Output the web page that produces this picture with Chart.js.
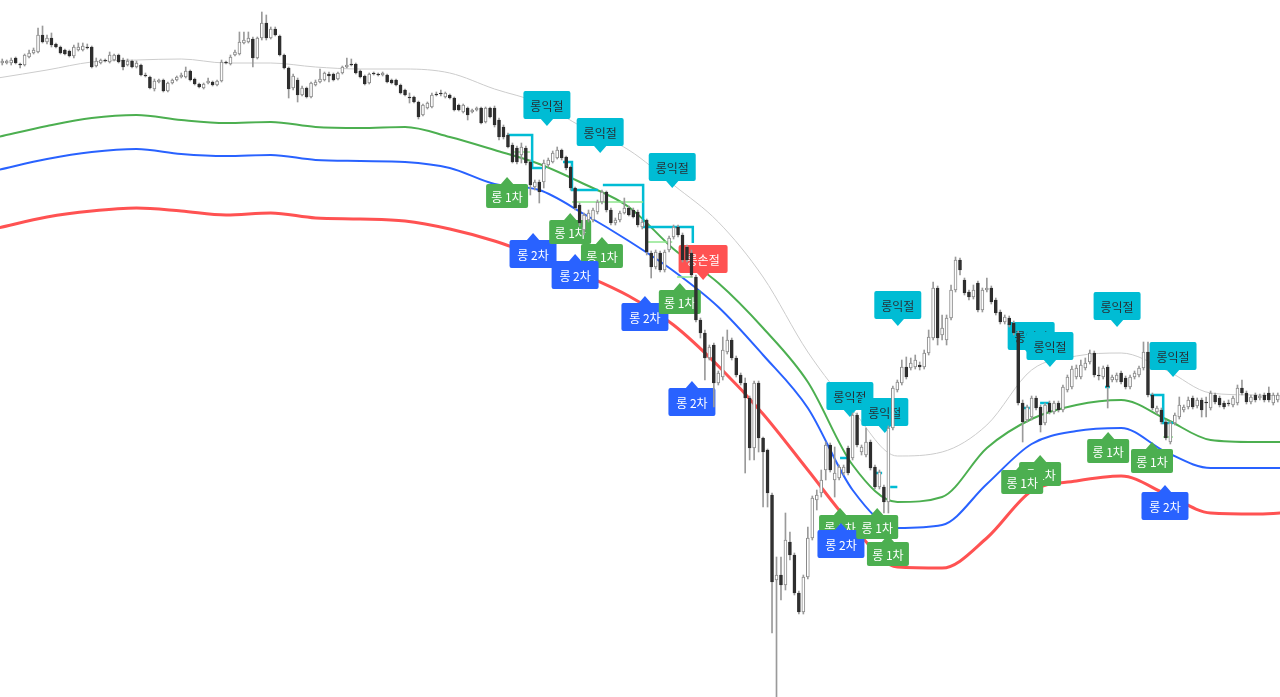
<!DOCTYPE html>
<html>
<head>
<meta charset="utf-8">
<script src="https://cdn.jsdelivr.net/npm/chart.js@4.4.1/dist/chart.umd.min.js"></script>
<style>
  html, body { margin: 0; padding: 0; background: #fff; }
  #wrap { width: 1280px; height: 697px; }
</style>
</head>
<body>
<div id="wrap"><canvas id="chart" width="1280" height="697"></canvas></div>
<script>
// candles: [open, high, low, close]
const ohlc = [
  [937,941,935,939],[937,940,936,939],[937,942,935,940],[942,943,936,937],[936,937,932,935],
  [935,946,934,945],[943,950,942,947],[947,952,946,950],[948,972,947,965],[965,974,957,958],
  [958,965,956,962],[962,967,953,955],[956,957,952,953],[953,954,946,947],[950,951,945,946],
  [949,950,943,944],[944,955,942,953],[950,957,949,953],[950,957,949,954],[953,956,951,952],
  [953,954,932,933],[934,942,933,939],[937,941,936,940],[940,941,938,939],[938,948,937,945],
  [940,946,939,945],[945,946,937,938],[940,942,930,933],[935,941,934,939],[939,940,932,933],
  [933,939,932,937],[935,936,924,925],[925,927,923,924],[923,924,911,912],[911,921,909,919],
  [918,921,917,920],[920,921,908,909],[909,918,908,917],[917,921,916,920],[920,924,919,923],
  [923,927,922,925],[923,933,922,929],[929,930,919,920],[921,922,915,916],[916,917,912,913],
  [912,917,911,916],[917,922,916,919],[918,919,914,915],[915,920,914,919],[919,940,918,938],
  [938,939,936,937],[936,945,935,943],[945,950,944,948],[946,968,945,958],[957,968,956,960],
  [958,968,957,962],[961,963,933,942],[942,963,941,962],[962,988,960,977],[977,985,960,962],
  [962,973,961,971],[971,973,964,965],[964,965,944,945],[945,946,931,932],[932,933,902,911],
  [912,926,910,924],[920,922,898,905],[905,914,904,912],[912,913,902,903],[903,918,902,917],
  [915,920,914,918],[918,931,917,921],[920,928,919,927],[926,928,918,924],[926,927,919,920],
  [921,928,920,927],[927,934,926,933],[933,942,932,935],[936,941,934,935],[936,937,926,927],
  [929,930,922,923],[924,925,915,916],[917,927,916,926],[927,928,925,926],[926,927,924,925],
  [925,928,924,927],[925,926,917,918],[920,921,916,917],[920,921,914,915],[915,916,906,907],
  [910,911,904,905],[903,907,897,902],[903,904,897,898],[898,899,881,883],[885,896,884,895],
  [892,898,891,897],[893,907,892,905],[906,908,904,905],[907,910,904,906],[903,908,902,907],
  [905,906,901,902],[902,903,889,890],[895,896,889,890],[888,896,887,895],[892,893,880,885],
  [888,891,887,890],[890,893,889,892],[892,893,876,877],[878,893,877,892],[892,893,882,883],
  [892,894,873,875],[880,882,860,863],[873,875,861,863],[865,867,852,853],[855,857,837,838],
  [852,854,836,838],[845,857,837,853],[852,854,835,837],[838,840,805,815],[813,820,810,818],
  [818,820,797,808],[818,840,812,837],[835,842,833,840],[838,849,837,847],[842,853,841,850],
  [850,851,840,842],[843,844,830,832],[833,834,810,812],[812,813,790,792],[795,797,774,777],
  [770,787,765,785],[780,790,778,787],[780,792,778,790],[788,800,786,798],[798,810,796,808],
  [808,809,788,790],[790,792,775,777],[777,782,775,780],[780,789,778,787],[787,802,786,792],
  [792,794,784,785],[790,792,782,783],[788,790,773,775],[773,780,771,778],[780,781,745,748],
  [747,749,722,733],[733,750,731,748],[747,749,728,730],[730,750,728,748],[750,764,748,762],
  [763,775,761,773],[773,775,763,765],[765,767,738,740],[753,755,738,740],[747,750,723,725],
  [723,725,678,680],[680,682,662,667],[667,670,620,642],[642,655,640,653],[655,657,593,617],
  [617,629,615,627],[623,663,620,650],[648,670,646,660],[660,662,640,642],[642,644,623,625],
  [625,627,615,617],[617,622,527,602],[602,604,540,552],[552,619,540,617],[617,619,548,562],
  [562,563,493,548],[550,551,493,507],[505,507,367,418],[420,443,300,425],[425,443,400,415],
  [415,487,410,460],[458,468,440,445],[445,447,405,407],[407,409,386,388],[388,425,386,423],
  [423,473,421,462],[462,504,460,502],[500,510,490,505],[507,530,503,520],[530,558,520,555],
  [555,557,528,530],[520,553,503,527],[522,535,520,533],[527,535,525,533],[552,554,525,527],
  [542,587,540,585],[585,587,553,555],[548,555,545,553],[545,572,543,558],[558,560,530,532],
  [533,535,511,513],[513,530,511,528],[513,515,487,498],[498,574,487,572],[572,614,570,612],
  [610,620,608,618],[617,640,615,633],[633,643,621,623],[632,642,630,637],[633,645,631,640],
  [635,638,630,633],[633,650,631,647],[647,670,645,663],[662,718,660,712],[712,714,655,662],
  [665,685,660,672],[660,685,655,682],[682,715,680,710],[710,743,708,740],[740,742,725,730],
  [720,722,705,707],[708,710,700,703],[703,715,701,710],[717,719,688,690],[690,712,688,710],
  [710,722,708,712],[712,714,696,698],[700,702,685,687],[688,690,676,678],[678,685,676,683],
  [682,684,673,675],[677,679,665,667],[667,669,595,597],[597,600,558,578],[580,595,578,593],
  [583,604,580,602],[602,604,590,592],[593,595,568,575],[577,597,575,595],[597,599,586,588],
  [588,599,586,597],[597,599,588,590],[590,615,588,613],[610,625,608,623],[613,634,611,631],
  [623,635,621,632],[623,640,621,635],[632,642,630,637],[638,650,636,647],[647,649,623,625],
  [625,633,620,624],[623,634,621,632],[633,635,592,613],[620,625,618,623],[620,627,618,625],
  [627,629,616,618],[622,624,611,613],[613,625,611,623],[623,629,621,627],[625,634,623,632],
  [632,658,630,648],[648,658,603,605],[605,607,590,592],[588,594,586,592],[590,592,576,578],
  [578,580,560,562],[558,579,556,577],[577,587,575,585],[583,603,581,595],[590,595,588,593],
  [593,603,591,600],[602,604,591,593],[594,602,592,600],[600,602,583,590],[598,603,583,597],
  [592,609,590,607],[605,607,596,598],[602,604,593,595],[597,599,591,593],[597,600,594,596],
  [595,604,593,602],[597,615,595,612],[612,620,605,607],[607,609,596,598],[598,605,596,603],
  [605,607,598,600],[602,606,600,604],[605,607,598,600],[607,613,598,600],[597,607,595,605],
  [600,607,598,605]
];

// band lines, sampled at these candle positions
const bandIdx = [-1,10,20,30,40,50,60,70,80,90,100,110,120,130,140,150,160,170,180,190,200,210,220,230,240,250,260,270,280,286];
const basis = [922,930,938,940,941,937,937,933,931,931,927,911,897,872,850,815,778,723,648,590,544,548,575,630,644,647,630,607,605,604];
const band1 = [863,874,882,885,880,877,878,873,872,873,863,850,836,816,793,751,717,672,618,535,498,503,552,581,595,600,581,560,558,558];
const band2 = [830,841,848,851,846,844,845,840,839,838,832,816,810,786,759,729,693,645,592,510,472,475,516,556,569,572,548,532,532,532];
const band3 = [772,783,789,792,789,785,787,782,781,779,771,759,743,725,704,675,634,586,530,474,433,432,462,509,519,524,506,487,486,487];

// take-profit level steps and entry lines: [candle position, price]
const tpSteps = [
  [[112.8,865],[118.4,832],[121.5,832]],
  [[125.3,838],[127.3,810],[133.1,810]],
  [[134.2,815],[143.2,773],[154.3,757]],
  [[187.2,542],[189.0,542]],
  [[195.0,527],[196.6,527]],
  [[198.4,513],[200.0,513]],
  [[227.8,592],[229.6,592]],
  [[231.9,597],[234.1,597]],
  [[246.4,613],[247.5,613]],
  [[256.5,605],[259.4,577],[261.6,577]]
];
const entrySteps = [
  [[114.1,848],[117.9,848]],
  [[127.3,798],[143.2,798]],
  [[144.1,758],[149.7,758]],
  [[150.8,723],[154.3,723]],
  [[259.4,563],[261.6,563]]
];

// signal tags (drawn in this order)
const tagIdx   = [121.7,133.6,149.7,112.8,118.6,126.9,134.0,128.0,143.6,156.6,151.4,154.1,200.1,189.4,197.2,187.2,187.4,195.5,197.9,229.9,234.1,231.9,227.9,249.1,247.1,256.9,261.6,259.8];
const tagPrice = [874,847,812,823,767,787,763,746,704,720,717,619,674,583,567,492,477,492,465,643,633,545,537,673,568,558,623,515];
const tagType  = ['tp','tp','tp','l1','l2','l1','l1','l2','l2','sl','l1','l2','tp','tp','tp','l1','l2','l1','l1','tp','tp','l1','l1','tp','l1','l1','tp','l2'];
const tagNames = { l1: '롱 1차', l2: '롱 2차', tp: '롱익절', sl: '롱손절' };

const tagStyle = {
  l1: { bg: '#4caf50', fg: '#ffffff', up: true,  w: 42, h: 24 },
  l2: { bg: '#2962ff', fg: '#ffffff', up: true,  w: 47, h: 28 },
  tp: { bg: '#00bcd4', fg: '#263238', up: false, w: 47, h: 28 },
  sl: { bg: '#ff5252', fg: '#ffffff', up: false, w: 49, h: 28 }
};

function steps(segs) {
  const out = [];
  segs.forEach(seg => {
    seg.forEach(p => out.push({ x: p[0], y: p[1] }));
    out.push({ x: seg[seg.length - 1][0] + 0.01, y: null });
  });
  return out;
}

function band(values, color, width) {
  return {
    type: 'line',
    data: bandIdx.map((x, i) => ({ x: x, y: values[i] })),
    borderColor: color,
    borderWidth: width,
    pointRadius: 0,
    cubicInterpolationMode: 'monotone',
    fill: false,
    order: 10
  };
}

const isUp = ohlc.map(c => c[3] >= c[0]);

const tagPlugin = {
  id: 'tags',
  beforeDatasetDraw(chart, args) {
    if (args.index !== 6) return;
    const ctx = chart.ctx;
    const x = chart.scales.x, y = chart.scales.y;
    ctx.save();
    ctx.font = '12px "Noto Sans CJK KR", "Noto Sans", sans-serif';
    ctx.textAlign = 'center';
    ctx.textBaseline = 'middle';
    tagIdx.forEach((idx, k) => {
      const s = tagStyle[tagType[k]];
      const px = x.getPixelForValue(idx);
      const py = y.getPixelForValue(tagPrice[k]);
      const ah = 7, aw = 7;
      const top = s.up ? py + ah : py - ah - s.h;
      ctx.fillStyle = s.bg;
      ctx.beginPath();
      ctx.roundRect(px - s.w / 2, top, s.w, s.h, 2);
      ctx.fill();
      ctx.beginPath();
      if (s.up) {
        ctx.moveTo(px, py);
        ctx.lineTo(px - aw, py + ah + 1);
        ctx.lineTo(px + aw, py + ah + 1);
      } else {
        ctx.moveTo(px, py);
        ctx.lineTo(px - aw, py - ah - 1);
        ctx.lineTo(px + aw, py - ah - 1);
      }
      ctx.closePath();
      ctx.fill();
      ctx.fillStyle = s.fg;
      ctx.fillText(tagNames[tagType[k]], px, top + s.h / 2 + 1);
    });
    ctx.restore();
  }
};

const ctx = document.getElementById('chart');

new Chart(ctx, {
  type: 'bar',
  data: {
    datasets: [
      band(basis, '#cccccc', 1),
      band(band1, '#4caf50', 2),
      band(band2, '#2962ff', 2),
      band(band3, '#ff5252', 3),
      {
        type: 'line',
        data: steps(tpSteps),
        borderColor: '#00bcd4',
        borderWidth: 2.5,
        stepped: true,
        pointRadius: 0,
        fill: false,
        order: 9
      },
      {
        type: 'line',
        data: steps(entrySteps),
        borderColor: '#8ee68e',
        borderWidth: 1.5,
        pointRadius: 0,
        fill: false,
        order: 8
      },
      {
        // wicks
        data: ohlc.map((c, i) => ({ x: i, y: [c[2], c[1]] })),
        backgroundColor: '#9a9a9a',
        barThickness: 1,
        grouped: false,
        order: 1
      },
      {
        // bodies
        data: ohlc.map((c, i) => ({ x: i, y: [c[0], c[3]] })),
        backgroundColor: isUp.map(u => u ? '#ffffff' : '#2e2e2e'),
        borderColor: isUp.map(u => u ? '#8a8a8a' : '#2e2e2e'),
        borderWidth: 1,
        borderSkipped: false,
        barThickness: 3,
        grouped: false,
        order: 0
      }
    ]
  },
  options: {
    responsive: false,
    animation: false,
    layout: { padding: 0 },
    plugins: {
      legend: { display: false },
      tooltip: { enabled: false }
    },
    scales: {
      x: { type: 'linear', min: -0.5, max: 285.5, offset: false, display: false },
      y: { min: 303, max: 1000, display: false }
    },
    elements: { point: { radius: 0 } }
  },
  plugins: [tagPlugin]
});
</script>
</body>
</html>
